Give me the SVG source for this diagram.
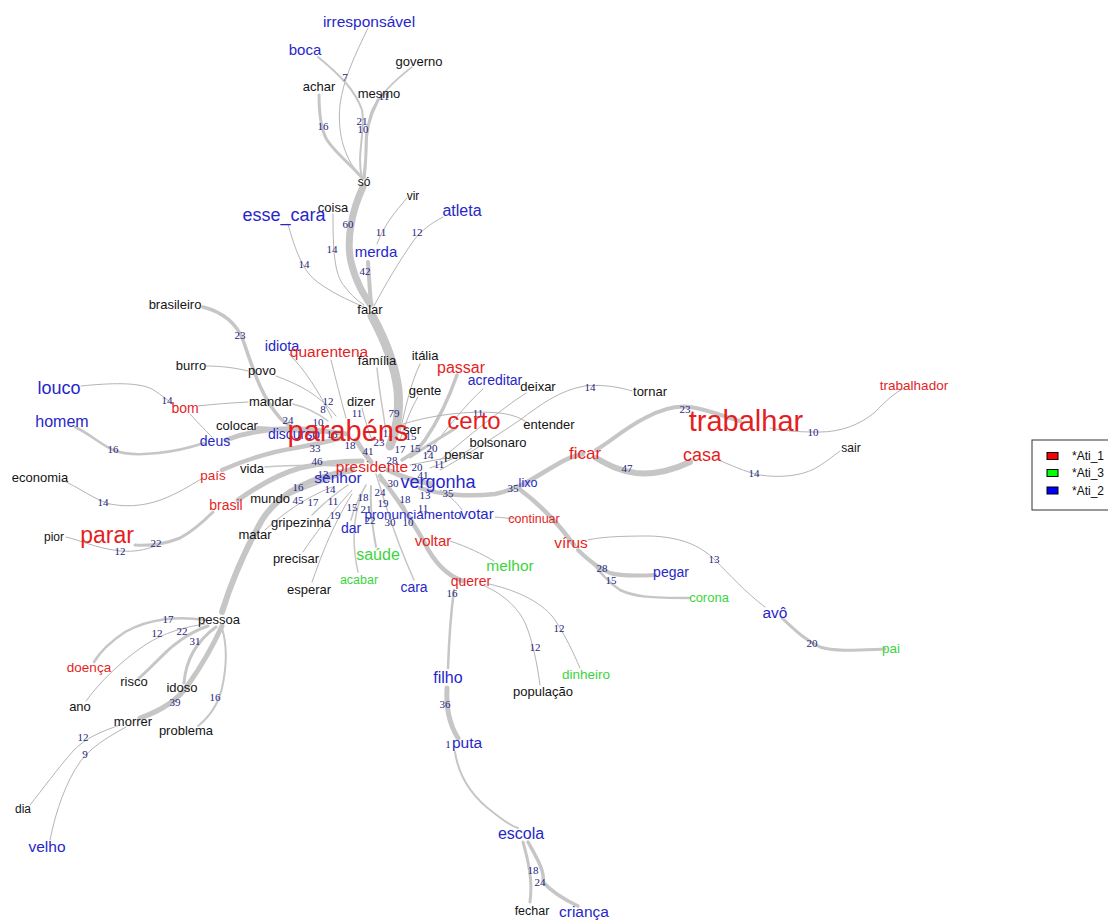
<svg xmlns="http://www.w3.org/2000/svg" width="1108" height="920" viewBox="0 0 1108 920">
<style>
.e{fill:none;stroke:#c6c6c6;stroke-linecap:round;stroke-linejoin:round}
.t{fill:none;stroke:#b4b4b4;stroke-width:1;stroke-linecap:round}
text{font-family:"Liberation Sans",Arial,sans-serif;text-anchor:middle}
.k{fill:#141414}.r{fill:#e41f1f}.b{fill:#2727c9}.g{fill:#3cd43c}
.n{font-family:"Liberation Serif","Times New Roman",serif;font-size:11px;fill:#26267c}
.lg{font-family:"Liberation Sans",Arial,sans-serif;font-size:12px;fill:#111;text-anchor:start}
</style>
<rect width="1108" height="920" fill="#fff"/>
<g id="connectors">
<!-- top cluster -->
<path class="t" d="M368,28 C355,55 343,80 340,105 C337,135 345,160 362,178"/>
<path class="e" stroke-width="2" d="M318,57 C340,75 355,90 362,110 C366,130 356,155 362,178"/>
<path class="e" stroke-width="3" d="M319,95 C319,112 320,128 327,140 C337,155 352,165 362,178"/>
<path class="e" stroke-width="3" d="M378,100 C370,115 365,130 366,150 C366,165 364,172 364,178"/>
<path class="e" stroke-width="1.6" d="M412,67 C395,80 380,95 372,110 C366,125 367,150 365,178"/>
<path class="e" stroke-width="7" d="M363,187 C352,210 346,240 351,262 C356,283 364,295 370,304"/>
<path class="t" d="M333,214 C333,250 334,275 345,287 C352,296 358,301 364,305"/>
<path class="t" d="M288,224 C295,250 303,270 315,280 C330,292 348,300 364,307"/>
<path class="t" d="M407,198 C395,212 384,225 377,244"/>
<path class="e" stroke-width="4" d="M368,262 C369,278 370,292 371,304"/>
<path class="t" d="M443,217 C430,224 422,230 414,240 C400,260 385,285 374,306"/>
<path class="e" stroke-width="9" d="M372,316 C385,340 395,365 398,390 C400,415 396,430 390,446"/>
<!-- left -->
<path class="e" stroke-width="3.5" d="M203,307 C222,312 236,322 243,340 C254,372 262,398 280,418 C292,430 306,432 322,432"/>
<path class="t" d="M206,366 C222,366 236,368 248,371"/>
<path class="t" d="M276,376 C300,385 320,395 336,416"/>
<path class="t" d="M289,354 C305,370 318,390 332,418"/>
<path class="t" d="M331,360 C336,380 341,400 346,418"/>
<path class="e" stroke-width="1.5" d="M293,404 C305,407 316,412 328,421"/>
<path class="t" d="M198,406 C215,404 230,403 248,402"/>
<path class="t" d="M81,386 C110,383 138,382 152,389 C163,396 170,402 175,406"/>
<path class="t" d="M190,414 C200,425 207,432 212,437"/>
<path class="e" stroke-width="2.5" d="M75,427 C90,434 100,444 113,450 C125,455 140,455 158,453 C178,451 192,447 204,443"/>
<path class="e" stroke-width="5" d="M226,440 C250,431 275,428 300,429 C318,430 332,432 348,434"/>
<path class="e" stroke-width="4" d="M258,428 C275,429 292,430 315,432"/>
<path class="e" stroke-width="4.5" d="M222,470 C245,460 270,452 295,448 C312,445 326,442 342,438"/>
<path class="e" stroke-width="5" d="M238,500 C255,488 275,475 300,468 C320,463 342,461 362,461"/>
<path class="e" stroke-width="3" d="M135,545 C150,546 165,544 180,538 C195,530 205,520 213,512"/>
<path class="t" d="M66,537 C80,540 95,548 120,551 C135,552 145,550 155,546"/>
<path class="t" d="M62,480 C80,488 95,500 110,504 C130,508 150,505 168,497 C184,490 194,483 203,478"/>
<path class="e" stroke-width="1.5" d="M265,467 C290,465 315,465 342,466"/>
<path class="e" stroke-width="2" d="M285,497 C300,490 316,484 336,477"/>
<path class="e" stroke-width="6" d="M222,612 C232,580 245,550 262,520 C280,492 310,478 352,470"/>
<path class="t" d="M265,530 C285,512 305,498 332,487"/>
<path class="e" stroke-width="1.5" d="M312,515 C322,505 333,495 348,485"/>
<path class="t" d="M303,552 C314,535 330,515 352,490"/>
<path class="t" d="M312,582 C320,560 330,530 352,494"/>
<path class="e" stroke-width="1.5" d="M358,572 C352,545 352,520 362,494"/>
<path class="e" stroke-width="2" d="M376,547 C372,525 370,505 371,486"/>
<path class="e" stroke-width="1.5" d="M351,520 C355,505 360,495 366,485"/>
<path class="e" stroke-width="1.5" d="M414,580 C405,560 395,535 386,506 C381,490 378,480 376,474"/>
<path class="e" stroke-width="2" d="M405,508 C400,500 390,490 380,480"/>
<path class="e" stroke-width="5" d="M356,440 C362,450 367,457 371,462"/>
<path class="e" stroke-width="5" d="M388,470 C404,478 418,482 432,484"/>
<!-- bottom -->
<path class="e" stroke-width="4.5" d="M380,476 C398,500 413,522 424,542 C434,562 448,576 463,581"/>
<path class="t" d="M450,541 C468,547 482,554 494,561"/>
<path class="e" stroke-width="2.5" d="M454,590 C451,612 449,640 448,668"/>
<path class="e" stroke-width="5" d="M447,688 C446,706 449,724 458,738"/>
<path class="e" stroke-width="2" d="M455,752 C459,778 472,797 494,813 C504,821 511,826 518,828"/>
<path class="e" stroke-width="3" d="M523,842 C528,860 533,880 530,902"/>
<path class="e" stroke-width="3.5" d="M528,842 C538,860 545,872 543,882 C552,892 565,900 578,906"/>
<path class="t" d="M485,586 C505,595 520,610 526,625 C532,640 537,662 540,685"/>
<path class="t" d="M489,584 C520,591 544,604 555,620 C565,635 574,654 580,668"/>
<!-- pessoa cluster -->
<path class="e" stroke-width="2.5" d="M205,620 C180,616 150,618 125,632 C110,642 100,652 94,662"/>
<path class="t" d="M205,624 C185,627 165,632 145,645 C120,662 100,682 86,701"/>
<path class="e" stroke-width="3" d="M208,626 C190,632 172,645 160,658 C150,668 143,675 139,678"/>
<path class="e" stroke-width="3" d="M216,627 C198,640 186,658 184,683"/>
<path class="e" stroke-width="5" d="M222,626 C212,648 200,668 188,685 C178,700 163,710 140,718"/>
<path class="e" stroke-width="2" d="M222,628 C228,648 226,670 222,688 C218,705 208,718 198,726"/>
<path class="t" d="M120,725 C100,732 86,738 74,750 C58,768 42,790 30,805"/>
<path class="t" d="M126,727 C106,738 90,748 80,762 C66,782 56,810 50,840"/>
<!-- right -->
<path class="e" stroke-width="3.5" d="M457,375 C450,395 440,418 425,440 C418,450 410,455 402,460"/>
<path class="t" d="M420,364 C410,385 405,410 400,432"/>
<path class="e" stroke-width="1.5" d="M377,368 C379,390 383,410 386,432"/>
<path class="t" d="M362,408 C365,420 368,430 372,440"/>
<path class="t" d="M418,397 C410,410 405,425 400,440"/>
<path class="t" d="M483,389 C465,405 446,430 426,455"/>
<path class="t" d="M526,393 C500,410 470,435 440,460"/>
<path class="t" d="M632,391 C620,387 600,384 585,386 C560,390 540,405 520,420 C490,440 462,458 440,470"/>
<path class="t" d="M400,425 C430,415 470,410 500,413 C515,415 522,419 528,423"/>
<path class="e" stroke-width="3" d="M456,428 C441,437 426,447 410,457"/>
<path class="t" d="M472,448 C460,456 446,462 430,468"/>
<path class="t" d="M446,458 C430,461 420,463 410,465"/>
<path class="e" stroke-width="4.5" d="M420,488 C440,495 470,497 495,494 C505,492 512,489 518,486"/>
<path class="e" stroke-width="4.5" d="M520,486 C535,478 550,468 565,460 C572,457 578,455 583,454"/>
<path class="e" stroke-width="4" d="M596,450 C610,442 625,428 645,418 C660,410 675,405 690,407 C710,410 725,417 740,421"/>
<path class="e" stroke-width="6" d="M596,458 C610,466 620,471 636,473 C656,475 673,470 690,462"/>
<path class="t" d="M716,459 C731,465 745,472 760,475 C780,478 800,476 814,469 C825,463 833,456 840,451"/>
<path class="t" d="M770,428 C790,432 805,432 820,432 C840,432 860,425 875,412 C885,402 895,392 905,388"/>
<path class="e" stroke-width="4.5" d="M518,488 C530,497 545,510 558,525 C565,533 570,540 574,545"/>
<path class="e" stroke-width="4" d="M578,550 C588,560 598,568 610,573 C620,576 635,576 655,575"/>
<path class="e" stroke-width="2.5" d="M592,562 C600,572 608,582 620,590 C635,597 650,598 690,598"/>
<path class="t" d="M588,540 C600,537 620,536 650,536 C680,537 700,545 715,560 C730,575 745,592 765,607"/>
<path class="e" stroke-width="3" d="M782,618 C795,630 805,640 820,647 C835,652 860,650 885,649"/>
<path class="t" d="M495,517 C503,518 510,518 516,519"/>
<path class="t" d="M462,510 C455,500 448,495 440,490"/>
</g>
<g id="edge-labels">
<text class="n" x="345" y="81">7</text>
<text class="n" x="323" y="130">16</text>
<text class="n" x="362" y="125">21</text>
<text class="n" x="363" y="133">10</text>
<text class="n" x="384" y="100">11</text>
<text class="n" x="348" y="228">60</text>
<text class="n" x="381" y="236">11</text>
<text class="n" x="417" y="236">12</text>
<text class="n" x="332" y="253">14</text>
<text class="n" x="304" y="268">14</text>
<text class="n" x="365" y="275">42</text>
<text class="n" x="240" y="339">23</text>
<text class="n" x="167" y="404">14</text>
<text class="n" x="328" y="405">12</text>
<text class="n" x="323" y="413">8</text>
<text class="n" x="357" y="417">11</text>
<text class="n" x="394" y="417">79</text>
<text class="n" x="318" y="426">10</text>
<text class="n" x="288" y="424">24</text>
<text class="n" x="478" y="417">11</text>
<text class="n" x="590" y="391">14</text>
<text class="n" x="685" y="413">23</text>
<text class="n" x="813" y="436">10</text>
<text class="n" x="113" y="453">16</text>
<text class="n" x="332" y="438">16</text>
<text class="n" x="388" y="437">11</text>
<text class="n" x="411" y="440">15</text>
<text class="n" x="350" y="449">18</text>
<text class="n" x="379" y="446">23</text>
<text class="n" x="368" y="455">41</text>
<text class="n" x="315" y="452">33</text>
<text class="n" x="400" y="453">17</text>
<text class="n" x="415" y="452">15</text>
<text class="n" x="432" y="452">20</text>
<text class="n" x="428" y="459">14</text>
<text class="n" x="439" y="468">11</text>
<text class="n" x="317" y="465">46</text>
<text class="n" x="392" y="464">28</text>
<text class="n" x="417" y="471">20</text>
<text class="n" x="323" y="478">13</text>
<text class="n" x="423" y="479">41</text>
<text class="n" x="393" y="487">30</text>
<text class="n" x="627" y="472">47</text>
<text class="n" x="754" y="477">14</text>
<text class="n" x="513" y="492">35</text>
<text class="n" x="448" y="497">35</text>
<text class="n" x="298" y="491">16</text>
<text class="n" x="330" y="493">14</text>
<text class="n" x="380" y="496">24</text>
<text class="n" x="298" y="504">45</text>
<text class="n" x="313" y="506">17</text>
<text class="n" x="333" y="505">11</text>
<text class="n" x="363" y="501">18</text>
<text class="n" x="383" y="507">19</text>
<text class="n" x="405" y="503">18</text>
<text class="n" x="425" y="499">13</text>
<text class="n" x="103" y="506">14</text>
<text class="n" x="352" y="511">15</text>
<text class="n" x="366" y="513">21</text>
<text class="n" x="423" y="512">11</text>
<text class="n" x="335" y="519">19</text>
<text class="n" x="370" y="524">22</text>
<text class="n" x="390" y="526">30</text>
<text class="n" x="408" y="526">10</text>
<text class="n" x="156" y="547">22</text>
<text class="n" x="120" y="555">12</text>
<text class="n" x="714" y="563">13</text>
<text class="n" x="602" y="572">28</text>
<text class="n" x="611" y="584">15</text>
<text class="n" x="452" y="597">16</text>
<text class="n" x="168" y="623">17</text>
<text class="n" x="157" y="637">12</text>
<text class="n" x="182" y="635">22</text>
<text class="n" x="195" y="645">31</text>
<text class="n" x="559" y="632">12</text>
<text class="n" x="812" y="647">20</text>
<text class="n" x="535" y="651">12</text>
<text class="n" x="175" y="706">39</text>
<text class="n" x="215" y="701">16</text>
<text class="n" x="445" y="708">36</text>
<text class="n" x="448" y="748">1</text>
<text class="n" x="83" y="741">12</text>
<text class="n" x="85" y="758">9</text>
<text class="n" x="533" y="874">18</text>
<text class="n" x="540" y="886">24</text>
</g>
<g id="n-irresponsavel"><text class="b" x="369" y="27" font-size="15.5">irresponsável</text></g>
<g id="n-boca"><text class="b" x="305" y="55" font-size="15">boca</text></g>
<g id="n-governo"><text class="k" x="419" y="66" font-size="13">governo</text></g>
<g id="n-achar"><text class="k" x="319" y="91" font-size="13">achar</text></g>
<g id="n-mesmo"><text class="k" x="379" y="98" font-size="13">mesmo</text></g>
<g id="n-so"><text class="k" x="364" y="186" font-size="12">só</text></g>
<g id="n-coisa"><text class="k" x="333" y="212" font-size="13">coisa</text></g>
<g id="n-vir"><text class="k" x="413" y="200" font-size="12">vir</text></g>
<g id="n-esse_cara"><text class="b" x="284" y="221" font-size="18">esse_cara</text></g>
<g id="n-atleta"><text class="b" x="462" y="216" font-size="16">atleta</text></g>
<g id="n-merda"><text class="b" x="376" y="257" font-size="15">merda</text></g>
<g id="n-falar"><text class="k" x="370" y="314" font-size="13">falar</text></g>
<g id="n-brasileiro"><text class="k" x="175" y="309" font-size="13">brasileiro</text></g>
<g id="n-idiota"><text class="b" x="282" y="351" font-size="14.5">idiota</text></g>
<g id="n-quarentena"><text class="r" x="329" y="357" font-size="15.5">quarentena</text></g>
<g id="n-familia"><text class="k" x="377" y="365" font-size="13">família</text></g>
<g id="n-italia"><text class="k" x="425" y="360" font-size="13">itália</text></g>
<g id="n-burro"><text class="k" x="191" y="370" font-size="13">burro</text></g>
<g id="n-povo"><text class="k" x="262" y="375" font-size="13">povo</text></g>
<g id="n-passar"><text class="r" x="461" y="373" font-size="16">passar</text></g>
<g id="n-acreditar"><text class="b" x="495" y="385" font-size="14">acreditar</text></g>
<g id="n-deixar"><text class="k" x="538" y="391" font-size="13">deixar</text></g>
<g id="n-tornar"><text class="k" x="650" y="396" font-size="13">tornar</text></g>
<g id="n-trabalhador"><text class="r" x="914" y="390" font-size="13.5">trabalhador</text></g>
<g id="n-louco"><text class="b" x="59" y="394" font-size="18">louco</text></g>
<g id="n-gente"><text class="k" x="425" y="395" font-size="13">gente</text></g>
<g id="n-dizer"><text class="k" x="361" y="406" font-size="13">dizer</text></g>
<g id="n-mandar"><text class="k" x="271" y="406" font-size="13">mandar</text></g>
<g id="n-bom"><text class="r" x="185" y="413" font-size="14">bom</text></g>
<g id="n-trabalhar"><text class="r" x="746" y="431" font-size="29">trabalhar</text></g>
<g id="n-certo"><text class="r" x="474" y="429" font-size="24">certo</text></g>
<g id="n-homem"><text class="b" x="62" y="427" font-size="16">homem</text></g>
<g id="n-colocar"><text class="k" x="237" y="430" font-size="13">colocar</text></g>
<g id="n-entender"><text class="k" x="549" y="429" font-size="13">entender</text></g>
<g id="n-ser"><text class="k" x="412" y="434" font-size="13">ser</text></g>
<g id="n-discurso"><text class="b" x="294" y="439" font-size="14">discurso</text></g>
<g id="n-parabens"><text class="r" x="348" y="441" font-size="29">parabéns</text></g>
<g id="n-deus"><text class="b" x="215" y="446" font-size="14">deus</text></g>
<g id="n-bolsonaro"><text class="k" x="498" y="447" font-size="13">bolsonaro</text></g>
<g id="n-sair"><text class="k" x="851" y="452" font-size="12">sair</text></g>
<g id="n-pensar"><text class="k" x="464" y="459" font-size="13">pensar</text></g>
<g id="n-ficar"><text class="r" x="585" y="459" font-size="17">ficar</text></g>
<g id="n-casa"><text class="r" x="702" y="461" font-size="18">casa</text></g>
<g id="n-presidente"><text class="r" x="372" y="472" font-size="15.5">presidente</text></g>
<g id="n-vida"><text class="k" x="252" y="473" font-size="13">vida</text></g>
<g id="n-senhor"><text class="b" x="338" y="483" font-size="15.5">senhor</text></g>
<g id="n-pais"><text class="r" x="213" y="480" font-size="13.5">país</text></g>
<g id="n-economia"><text class="k" x="40" y="482" font-size="13">economia</text></g>
<g id="n-vergonha"><text class="b" x="438" y="488" font-size="18">vergonha</text></g>
<g id="n-lixo"><text class="b" x="528" y="487" font-size="12.5">lixo</text></g>
<g id="n-mundo"><text class="k" x="270" y="503" font-size="13">mundo</text></g>
<g id="n-brasil"><text class="r" x="226" y="510" font-size="14">brasil</text></g>
<g id="n-pronunciamento"><text class="b" x="413" y="519" font-size="13.5">pronunciamento</text></g>
<g id="n-votar"><text class="b" x="477" y="519" font-size="15">votar</text></g>
<g id="n-continuar"><text class="r" x="534" y="523" font-size="12.5">continuar</text></g>
<g id="n-gripezinha"><text class="k" x="301" y="527" font-size="13">gripezinha</text></g>
<g id="n-dar"><text class="b" x="351" y="533" font-size="14">dar</text></g>
<g id="n-parar"><text class="r" x="107" y="543" font-size="23">parar</text></g>
<g id="n-pior"><text class="k" x="54" y="541" font-size="12">pior</text></g>
<g id="n-matar"><text class="k" x="255" y="539" font-size="13">matar</text></g>
<g id="n-voltar"><text class="r" x="433" y="546" font-size="15">voltar</text></g>
<g id="n-virus"><text class="r" x="571" y="548" font-size="15.5">vírus</text></g>
<g id="n-precisar"><text class="k" x="296" y="563" font-size="13">precisar</text></g>
<g id="n-saude"><text class="g" x="378" y="560" font-size="16">saúde</text></g>
<g id="n-melhor"><text class="g" x="510" y="571" font-size="15.5">melhor</text></g>
<g id="n-pegar"><text class="b" x="671" y="577" font-size="14">pegar</text></g>
<g id="n-querer"><text class="r" x="471" y="586" font-size="14">querer</text></g>
<g id="n-cara"><text class="b" x="414" y="592" font-size="14">cara</text></g>
<g id="n-esperar"><text class="k" x="309" y="594" font-size="13">esperar</text></g>
<g id="n-acabar"><text class="g" x="359" y="584" font-size="12.5">acabar</text></g>
<g id="n-corona"><text class="g" x="709" y="602" font-size="13">corona</text></g>
<g id="n-avo"><text class="b" x="775" y="618" font-size="15.5">avô</text></g>
<g id="n-pessoa"><text class="k" x="219" y="624" font-size="13">pessoa</text></g>
<g id="n-pai"><text class="g" x="891" y="653" font-size="13.5">pai</text></g>
<g id="n-doenca"><text class="r" x="89" y="672" font-size="13.5">doença</text></g>
<g id="n-filho"><text class="b" x="448" y="683" font-size="16">filho</text></g>
<g id="n-dinheiro"><text class="g" x="586" y="679" font-size="13.5">dinheiro</text></g>
<g id="n-risco"><text class="k" x="134" y="686" font-size="13">risco</text></g>
<g id="n-idoso"><text class="k" x="182" y="692" font-size="13">idoso</text></g>
<g id="n-populacao"><text class="k" x="543" y="696" font-size="13">população</text></g>
<g id="n-ano"><text class="k" x="80" y="711" font-size="13">ano</text></g>
<g id="n-morrer"><text class="k" x="133" y="726" font-size="13">morrer</text></g>
<g id="n-problema"><text class="k" x="186" y="735" font-size="13">problema</text></g>
<g id="n-puta"><text class="b" x="467" y="748" font-size="15.5">puta</text></g>
<g id="n-dia"><text class="k" x="23" y="813" font-size="12">dia</text></g>
<g id="n-escola"><text class="b" x="521" y="839" font-size="16">escola</text></g>
<g id="n-velho"><text class="b" x="47" y="852" font-size="15.5">velho</text></g>
<g id="n-fechar"><text class="k" x="532" y="915" font-size="12.5">fechar</text></g>
<g id="n-crianca"><text class="b" x="584" y="917" font-size="15.5">criança</text></g>
<g id="legend">
<rect x="1032" y="440" width="100" height="70" fill="#fff" stroke="#333" stroke-width="1"/>
<rect x="1047" y="452.5" width="11" height="7" fill="#ff0000" stroke="#000" stroke-width="1"/>
<rect x="1047" y="469.5" width="11" height="7" fill="#00ff00" stroke="#000" stroke-width="1"/>
<rect x="1047" y="487" width="11" height="7" fill="#0000ff" stroke="#000" stroke-width="1"/>
<text class="lg" x="1072" y="460">*Ati_1</text>
<text class="lg" x="1072" y="477">*Ati_3</text>
<text class="lg" x="1072" y="495">*Ati_2</text>
</g>
</svg>
